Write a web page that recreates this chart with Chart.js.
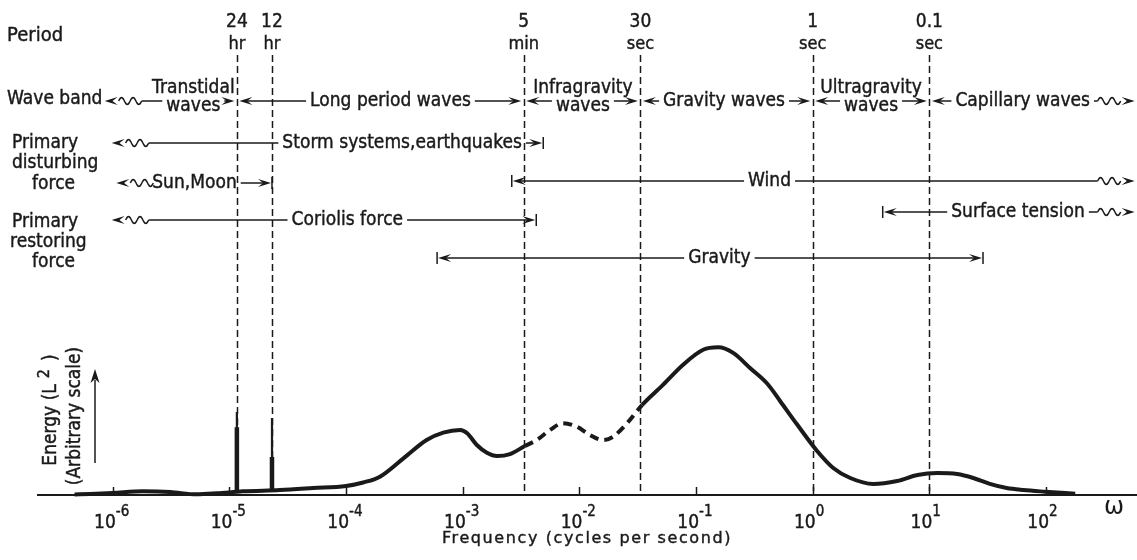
<!DOCTYPE html>
<html>
<head>
<meta charset="utf-8">
<title>Ocean wave energy spectrum</title>
<script src="https://cdn.jsdelivr.net/npm/chart.js@4.4.1/dist/chart.umd.min.js"></script>
<style>
  html, body { margin: 0; padding: 0; background: #fff; }
  #chart { display: block; }
</style>
</head>
<body>
<canvas id="chart" width="1137" height="560"></canvas>
<script>
// Spectrum: frequency (cycles per second) and energy (arbitrary units)
const freqHz = [4.7e-7, 6.4e-7, 1.0e-6, 1.8e-6, 3.1e-6, 5.2e-6, 7.8e-6, 1.3e-5, 2.7e-5, 5.2e-5,
  1.0e-4, 1.4e-4, 1.95e-4, 3.1e-4, 4.9e-4, 6.8e-4, 9.5e-4, 1.09e-3, 1.32e-3, 1.61e-3,
  1.97e-3, 2.54e-3, 3.41e-3, 4.3e-3, 5.6e-3, 7.2e-3, 9.5e-3, 1.23e-2, 1.59e-2, 1.94e-2,
  2.56e-2, 3.44e-2, 5.2e-2, 7.7e-2, 0.115, 0.155, 0.208, 0.29, 0.41, 0.525,
  0.73, 1.09, 1.5, 2.1, 3.3, 5.3, 7.9, 11.7, 17.3, 23.8,
  33, 46, 64, 98, 178];
const energy = [0.3, 0.6, 1.2, 2.2, 1.8, 0.4, 1.0, 2.2, 3.0, 4.2,
  5.5, 7.6, 11.1, 22.2, 33.3, 37.8, 39.4, 37.4, 30.3, 25.6,
  23.6, 24.8, 29.7, 33.3, 39.4, 43.5, 41.4, 36.4, 33.3, 35.3,
  43.5, 54.5, 66.7, 78.8, 88.0, 89.5, 86.1, 77.0, 67.3, 57.0,
  43.0, 26.7, 16.4, 10.3, 6.7, 8.5, 12.1, 13.3, 12.7, 10.3,
  6.7, 4.2, 3.0, 2.0, 0.8];

// tidal lines (diurnal, semidiurnal)
const tideHz = [1 / 86400, 1 / 43200];
const tidePeak = [50.3, 46.7];
const tideCore = [41.0, 23.0];
const tideFloor = [1.8, 2.6];

// period markers, in seconds
const periodsSec = [86400, 43200, 300, 30, 1, 0.1];
const periodNum = ['24', '12', '5', '30', '1', '0.1'];
const periodUnit = ['hr', 'hr', 'min', 'sec', 'sec', 'sec'];

// frequency axis decades
const decades = [-6, -5, -4, -3, -2, -1, 0, 1, 2];

// the stretch between 5 min and 30 sec is only sketched
const dashedFrom = 1 / 300;
const dashedTo = 1 / 30;

function P(i) { return Math.log10(1 / periodsSec[i]); }

// annotation bands; from / to / at are log10 of frequency
const spans = [
  { row: 'band', from: -6.07, to: P(0), text: ['Transtidal', 'waves'], at: -5.31, start: 'wavy', end: 'head' },
  { row: 'band', from: P(0), to: P(2), text: ['Long period waves'], at: -3.62, start: 'head', end: 'head' },
  { row: 'band', from: P(2), to: P(3), text: ['Infragravity', 'waves'], at: -1.97, start: 'head', end: 'head' },
  { row: 'band', from: P(3), to: P(4), text: ['Gravity waves'], at: -0.76, start: 'head', end: 'head' },
  { row: 'band', from: P(4), to: P(5), text: ['Ultragravity', 'waves'], at: 0.50, start: 'head', end: 'head' },
  { row: 'band', from: P(5), to: 2.76, text: ['Capillary waves'], at: 1.80, start: 'head', end: 'wavy' },
  { row: 'storm', from: -6.01, to: -2.31, text: ['Storm systems,earthquakes'], at: -3.52, start: 'wavy', end: 'bar' },
  { row: 'sun', from: -5.97, to: P(1), text: ['Sun,Moon'], at: -5.30, start: 'wavy', end: 'bar' },
  { row: 'wind', from: -2.58, to: 2.76, text: ['Wind'], at: -0.37, start: 'bar', end: 'wavy' },
  { row: 'coriolis', from: -6.01, to: -2.37, text: ['Coriolis force'], at: -3.99, start: 'wavy', end: 'bar' },
  { row: 'tension', from: 0.60, to: 2.76, text: ['Surface tension'], at: 1.76, start: 'bar', end: 'wavy' },
  { row: 'gravity', from: -3.22, to: 1.46, text: ['Gravity'], at: -0.80, start: 'bar', end: 'bar' },
];

// layout
const rowY = { band: 101, storm: 143, sun: 183, wind: 181, coriolis: 220, tension: 212, gravity: 258 };
const sideLabels = [
  ['Period', 7, 36, 20],
  ['Wave band', 7, 99, 19],
  ['Primary', 12, 143, 19], ['disturbing', 12, 163, 19], ['force', 32, 184, 19],
  ['Primary', 12, 222, 19], ['restoring', 10, 242, 19], ['force', 32, 262, 19],
];
const INK = '#1a1a1a';
const FAMILY = '"DejaVu Sans", Verdana, sans-serif';
const SQUEEZE = 0.9;
const TXT = 19;

// lettering is drawn a little heavier than the plain face
function label(ctx, str, x, y, size, align = 'center', baseline = 'middle') {
  ctx.save();
  ctx.font = size + 'px ' + FAMILY;
  ctx.textAlign = align;
  ctx.textBaseline = baseline;
  ctx.translate(x, y);
  ctx.scale(SQUEEZE, 1);
  ctx.lineWidth = 0.45;
  ctx.strokeStyle = INK;
  ctx.fillText(str, 0, 0);
  ctx.strokeText(str, 0, 0);
  ctx.restore();
}

function textWidth(ctx, str, size) {
  ctx.save();
  ctx.font = size + 'px ' + FAMILY;
  const w = ctx.measureText(str).width * SQUEEZE;
  ctx.restore();
  return w;
}

// dir -1 points left, +1 points right
function head(ctx, x, y, dir) {
  const L = 13, h = 4;
  ctx.beginPath();
  ctx.moveTo(x, y);
  ctx.lineTo(x - dir * L, y - h);
  ctx.lineTo(x - dir * L * 0.6, y);
  ctx.lineTo(x - dir * L, y + h);
  ctx.closePath();
  ctx.fill();
}

function bar(ctx, x, y) {
  ctx.beginPath();
  ctx.moveTo(x, y - 6);
  ctx.lineTo(x, y + 6);
  ctx.stroke();
}

function wiggle(ctx, xa, xb, y) {
  const x0 = Math.min(xa, xb), x1 = Math.max(xa, xb);
  ctx.beginPath();
  for (let i = 0; i <= 24; i++) {
    const t = i / 24;
    const px = x0 + (x1 - x0) * t;
    const py = y - 3.5 * Math.sin(t * Math.PI * 4);
    if (i) ctx.lineTo(px, py); else ctx.moveTo(px, py);
  }
  ctx.stroke();
}

function seg(ctx, a, b, y) {
  if (b - a < 1) return;
  ctx.beginPath();
  ctx.moveTo(a, y);
  ctx.lineTo(b, y);
  ctx.stroke();
}

// draws an end of a band and returns where its line starts
function cap(ctx, x, y, kind, dir) {
  if (kind === 'head') {
    const tip = x - dir * 2.5;
    head(ctx, tip, y, dir);
    return tip - dir * 6;
  }
  if (kind === 'bar') {
    bar(ctx, x, y);
    head(ctx, x - dir, y, dir);
    return x - dir * 6;
  }
  head(ctx, x, y, dir);
  wiggle(ctx, x - dir * 14, x - dir * 37, y);
  return x - dir * 37;
}

function drawSpan(ctx, xs, s) {
  const px = (e) => xs.getPixelForValue(10 ** e);
  const y = rowY[s.row];
  const xc = px(s.at);
  const last = s.text[s.text.length - 1];
  const w = textWidth(ctx, last, TXT);
  if (s.text.length === 1) {
    label(ctx, s.text[0], xc, y, TXT);
  } else {
    label(ctx, s.text[0], xc, y - 13, TXT);
    label(ctx, s.text[1], xc, y + 5, TXT);
  }
  const a = cap(ctx, px(s.from), y, s.start, -1);
  const b = cap(ctx, px(s.to), y, s.end, 1);
  seg(ctx, a, xc - w / 2 - 4, y);
  seg(ctx, xc + w / 2 + 4, b, y);
}

const spectrumDecor = {
  id: 'spectrumDecor',
  beforeDatasetsDraw(chart) {
    const { ctx, chartArea, scales: { x } } = chart;
    ctx.save();
    ctx.strokeStyle = INK;

    // period markers
    ctx.lineWidth = 1.5;
    ctx.setLineDash([7, 4]);
    periodsSec.forEach(T => {
      const px = Math.round(x.getPixelForValue(1 / T)) + 0.5;
      ctx.beginPath();
      ctx.moveTo(px, 55);
      ctx.lineTo(px, chartArea.bottom);
      ctx.stroke();
    });
    ctx.setLineDash([]);

    // frequency axis with inward ticks
    ctx.lineWidth = 2;
    ctx.beginPath();
    ctx.moveTo(chartArea.left, chartArea.bottom);
    ctx.lineTo(chartArea.right, chartArea.bottom);
    ctx.stroke();
    ctx.lineWidth = 1.5;
    decades.forEach(d => {
      const px = Math.round(x.getPixelForValue(10 ** d)) + 0.5;
      ctx.beginPath();
      ctx.moveTo(px, chartArea.bottom);
      ctx.lineTo(px, chartArea.bottom - 8);
      ctx.stroke();
    });
    ctx.restore();
  },
  afterDraw(chart) {
    const { ctx, chartArea, scales: { x } } = chart;
    ctx.save();
    ctx.fillStyle = INK;
    ctx.strokeStyle = INK;
    ctx.lineWidth = 1.5;

    // decade labels
    decades.forEach(d => {
      const px = x.getPixelForValue(10 ** d);
      label(ctx, '10', px + 3, 528, 19, 'right', 'alphabetic');
      label(ctx, String(d), px + 3, 516, 15, 'left', 'alphabetic');
    });
    ctx.save();
    ctx.font = '16px ' + FAMILY;
    ctx.letterSpacing = '1.6px';
    ctx.textAlign = 'center';
    ctx.textBaseline = 'middle';
    ctx.lineWidth = 0.4;
    ctx.fillText('Frequency (cycles per second)', (chartArea.left + chartArea.right) / 2, 539);
    ctx.strokeText('Frequency (cycles per second)', (chartArea.left + chartArea.right) / 2, 539);
    ctx.restore();
    ctx.font = '24px ' + FAMILY;
    ctx.textAlign = 'center';
    ctx.textBaseline = 'middle';
    ctx.fillText('\u03c9', 1114, 508);

    // energy axis title, rotated
    ctx.save();
    ctx.translate(51, 410);
    ctx.rotate(-Math.PI / 2);
    const parts = [['Energy (L', TXT, 0, 0], ['2', 16, -6, 6], [')', TXT, 0, 8]];
    const total = parts.reduce((s, p) => s + p[3] + textWidth(ctx, p[0], p[1]), 0);
    let cx = -total / 2;
    parts.forEach(p => {
      cx += p[3];
      label(ctx, p[0], cx, p[2], p[1], 'left');
      cx += textWidth(ctx, p[0], p[1]);
    });
    ctx.restore();
    ctx.save();
    ctx.translate(75, 416);
    ctx.rotate(-Math.PI / 2);
    label(ctx, '(Arbitrary scale)', 0, 0, TXT);
    ctx.restore();
    ctx.beginPath();
    ctx.moveTo(95, 463);
    ctx.lineTo(95, 380);
    ctx.stroke();
    ctx.beginPath();
    ctx.moveTo(95, 369);
    ctx.lineTo(90.5, 383);
    ctx.lineTo(95, 379);
    ctx.lineTo(99.5, 383);
    ctx.closePath();
    ctx.fill();

    // period labels above the markers
    periodsSec.forEach((T, i) => {
      const px = x.getPixelForValue(1 / T);
      label(ctx, periodNum[i], px, 22, 19);
      label(ctx, periodUnit[i], px, 44, 18);
    });

    sideLabels.forEach(([s, lx, ly, size]) => label(ctx, s, lx, ly, size, 'left'));

    spans.forEach(s => drawSpan(ctx, x, s));
    ctx.restore();
  }
};

function spikes(levels) {
  const pts = [];
  tideHz.forEach((f, i) => {
    pts.push({ x: f, y: tideFloor[i] }, { x: f, y: levels[i] }, { x: f, y: null });
  });
  return pts;
}

new Chart(document.getElementById('chart'), {
  type: 'line',
  data: {
    datasets: [
      {
        data: freqHz.map((f, i) => ({ x: f, y: energy[i] })),
        borderColor: INK,
        borderWidth: 4,
        borderJoinStyle: 'round',
        pointRadius: 0,
        cubicInterpolationMode: 'monotone',
        clip: false,
        segment: {
          borderDash: c => (c.p0.parsed.x >= dashedFrom && c.p1.parsed.x <= dashedTo * 1.05) ? [9, 6] : undefined
        }
      },
      { data: spikes(tidePeak), borderColor: INK, borderWidth: 2.2, pointRadius: 0, tension: 0, spanGaps: false, clip: false },
      { data: spikes(tideCore), borderColor: INK, borderWidth: 4.5, pointRadius: 0, tension: 0, spanGaps: false, clip: false }
    ]
  },
  options: {
    responsive: false,
    animation: false,
    devicePixelRatio: 1,
    events: [],
    layout: { padding: { left: 37, right: 0, top: 330, bottom: 65 } },
    plugins: { legend: { display: false }, tooltip: { enabled: false } },
    scales: {
      x: { type: 'logarithmic', min: 10 ** -6.65, max: 10 ** 2.78, bounds: 'data', display: false },
      y: { type: 'linear', min: 0, max: 100, display: false }
    }
  },
  plugins: [spectrumDecor]
});
</script>
</body>
</html>
